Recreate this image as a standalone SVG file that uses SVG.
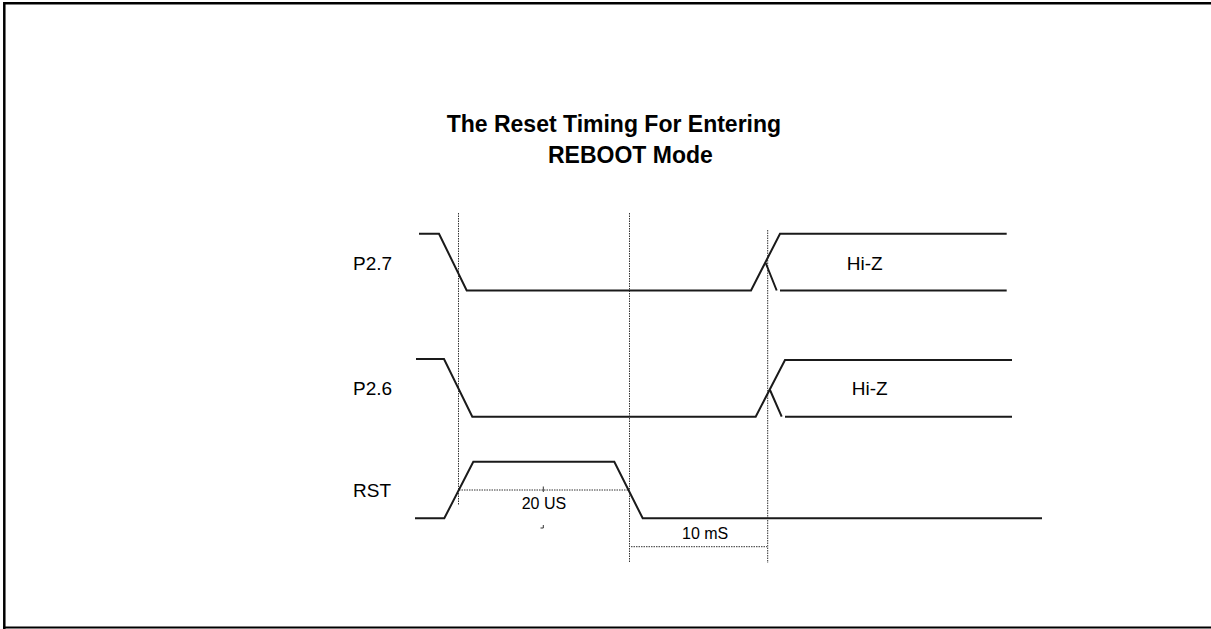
<svg xmlns="http://www.w3.org/2000/svg" width="1211" height="629" viewBox="0 0 1211 629">
<style>
.sig{fill:none;stroke:#1a1a1a;stroke-width:2;stroke-linejoin:miter}
.dot{fill:none;stroke:#333;stroke-width:1;stroke-dasharray:1.5,1}
.lbl{font-family:"Liberation Sans",Arial,sans-serif;font-size:19px;fill:#000}
.sm{font-family:"Liberation Sans",Arial,sans-serif;font-size:16px;fill:#000}
.ttl{font-family:"Liberation Sans",Arial,sans-serif;font-size:23px;font-weight:bold;fill:#000}
</style>
<rect width="1211" height="629" fill="#fff"/>
<g id="frame">
<path d="M4.3,629 V3.3 H1211" fill="none" stroke="#000" stroke-width="2.5"/>
<path d="M3,627.5 H1211" fill="none" stroke="#000" stroke-width="2"/>
</g>
<g id="title">
<text class="ttl" x="446.7" y="132">The Reset Timing For Entering</text>
<text class="ttl" x="548" y="163">REBOOT Mode</text>
</g>
<g id="connectors">
<path class="dot" d="M458.5,213 V505"/>
<path class="dot" d="M629.5,213 V563"/>
<path class="dot" d="M767.7,230 V563"/>
<path class="dot" d="M459,490 H629"/>
<path class="dot" d="M631,546.7 H767"/>
<path d="M543.3,486.5 V492" stroke="#333" stroke-width="1" fill="none"/>
<path d="M540.5,528 H543.3 V525" stroke="#333" stroke-width="1" fill="none"/>
</g>
<g id="p27">
<text class="lbl" x="353" y="270">P2.7</text>
<path class="sig" d="M419,233.7 H439 L466.7,290.5 H751 L780,233.7 H1006.7"/>
<path class="sig" d="M765.7,263 L776.7,290.5 M780,290.5 H1006.7"/>
<text class="lbl" x="846.7" y="270">Hi-Z</text>
</g>
<g id="p26">
<text class="lbl" x="353" y="395">P2.6</text>
<path class="sig" d="M416,359 H444 L472.3,416.7 H755.7 L785,360 H1012"/>
<path class="sig" d="M770,390 L781.7,416.7 M785,416.7 H1012"/>
<text class="lbl" x="851.7" y="395">Hi-Z</text>
</g>
<g id="rst">
<text class="lbl" x="353" y="497">RST</text>
<path class="sig" d="M415,518.3 H444.3 L473.3,461.7 H614.3 L642.7,518.3 H1042"/>
<text class="sm" x="521.7" y="509">20 US</text>
<text class="sm" x="682" y="539">10 mS</text>
</g>
</svg>
